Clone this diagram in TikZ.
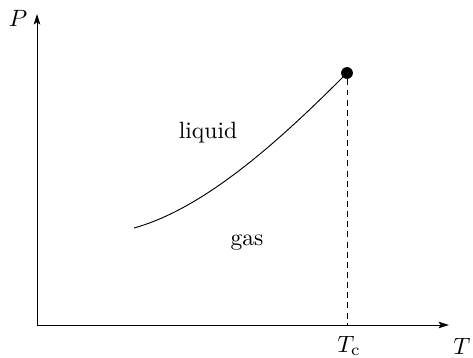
\documentclass[tikz,border=0pt]{standalone}
\usetikzlibrary{arrows.meta}
\begin{document}
\begin{tikzpicture}[x=0.424pt,y=-0.424pt,
  thinline/.style={line width=0.4pt},
  axis/.style={thinline,-{Stealth[length=4.5pt,width=2.8pt,inset=1pt]}},
  lbl/.style={inner sep=0pt}]
\useasboundingbox (0,0) rectangle (473,358);
\coordinate (O) at (37,325);
\coordinate (Ytop) at (37,14);
\coordinate (Xend) at (449,325);
\coordinate (Cbase) at (347,325);
\coordinate (Start) at (134,228);
\draw[axis] (O) -- (Ytop);
\draw[axis] (O) -- (Xend);
\node[lbl] (P) at (18,18) {$P$};
\node[lbl] (T) at (462,346) {$T$};
\node[lbl] (Tc) at (349,346) {$T_{\mathrm{c}}$};
\node[circle,fill=black,inner sep=0pt,minimum size=5pt] (C) at (347,73) {};
\draw[thinline,dash pattern=on 2.5pt off 1.8pt] (C) -- (Cbase);
\draw[thinline] (Start) .. controls (210,207) and (290,130) .. (C.center);
\node[lbl] (liq) at (208,133) {liquid};
\node[lbl] (gas) at (247,243) {gas};
\end{tikzpicture}
\end{document}
